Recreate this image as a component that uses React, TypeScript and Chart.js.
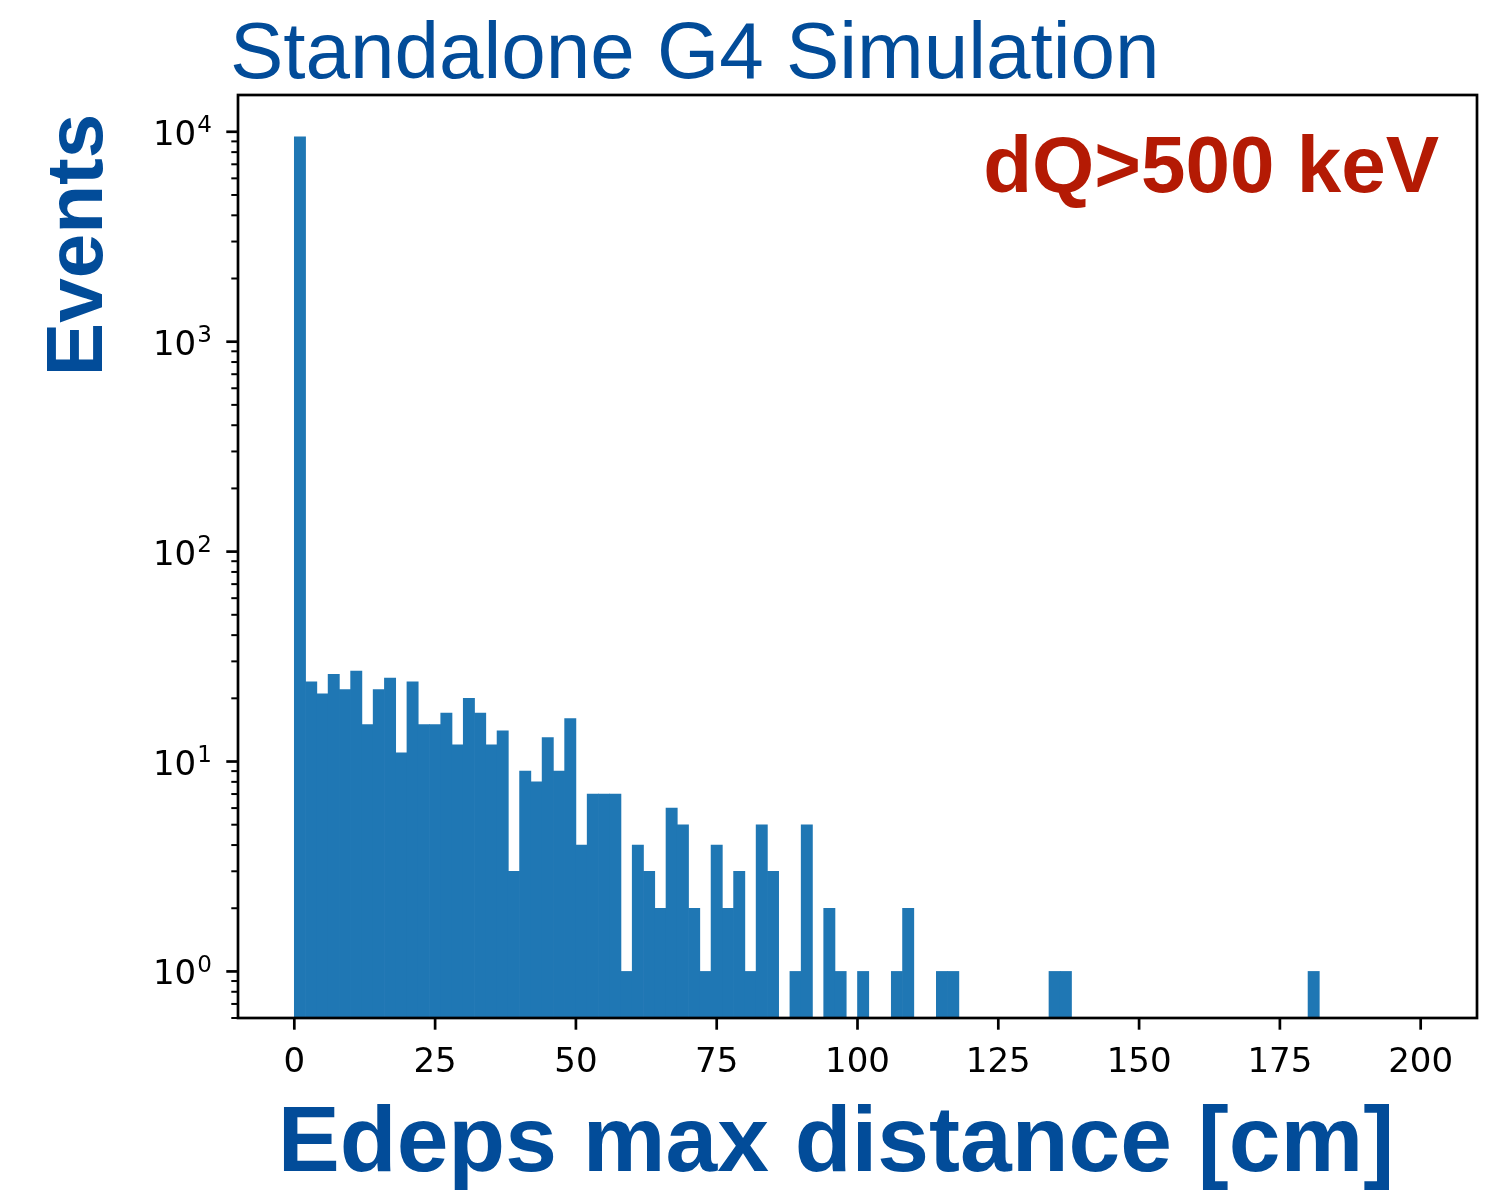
import React, { useEffect, useRef } from 'react';
import { Chart, registerables } from 'chart.js';

Chart.register(...registerables);

// ---- data ----
const BIN_START = 0;
const BIN_WIDTH = 2;
const counts: number[] = [
  9460, 24, 21, 26, 22, 27, 15, 22, 25, 11,
  24, 15, 15, 17, 12, 20, 17, 12, 14, 3,
  9, 8, 13, 9, 16, 4, 7, 7, 7, 1,
  4, 3, 2, 6, 5, 2, 1, 4, 2, 3,
  1, 5, 3, 0, 1, 5, 0, 2, 1, 0,
  1, 0, 0, 1, 2, 0, 0, 1, 1, 0,
  0, 0, 0, 0, 0, 0, 0, 1, 1, 0,
  0, 0, 0, 0, 0, 0, 0, 0, 0, 0,
  0, 0, 0, 0, 0, 0, 0, 0, 0, 0,
  1, 0, 0, 0, 0, 0, 0, 0, 0, 0,
];
const xTickValues = [0, 25, 50, 75, 100, 125, 150, 175, 200];
const yDecadeExponents = [0, 1, 2, 3, 4];
const X_MIN = -10;
const X_MAX = 210;
const Y_MIN = 0.632;
const Y_MAX = 14970;

const titleText = 'Standalone G4 Simulation';
const noteText = 'dQ>500 keV';
const xLabelText = 'Edeps max distance [cm]';
const yLabelText = 'Events';

const W = 1506;
const H = 1191;
const BLUE = '#024c99';
const RED = '#b41a04';
const BAR = '#1f77b4';

const decorPlugin = {
  id: 'decor',
  afterDraw(chart: any) {
    const { ctx, chartArea } = chart;
    const xs = chart.scales.x;
    const ys = chart.scales.y;
    ctx.save();
    // frame (spines)
    ctx.strokeStyle = '#000';
    ctx.lineWidth = 2.7;
    ctx.strokeRect(
      chartArea.left,
      chartArea.top,
      chartArea.right - chartArea.left,
      chartArea.bottom - chartArea.top
    );
    // x ticks
    ctx.lineCap = 'butt';
    for (const v of xTickValues) {
      const px = xs.getPixelForValue(v);
      ctx.beginPath();
      ctx.moveTo(px, chartArea.bottom);
      ctx.lineTo(px, chartArea.bottom + 11.7);
      ctx.stroke();
    }
    // y ticks (log major+minor)
    for (let e = -1; e <= 4; e++) {
      for (let k = 1; k <= 9; k++) {
        const v = k * Math.pow(10, e);
        if (v < ys.min || v > ys.max) continue;
        const py = ys.getPixelForValue(v);
        const major = k === 1;
        ctx.lineWidth = major ? 2.7 : 2;
        ctx.beginPath();
        ctx.moveTo(chartArea.left, py);
        ctx.lineTo(chartArea.left - (major ? 11.7 : 6.7), py);
        ctx.stroke();
      }
    }
    // y tick labels 10^n
    ctx.fillStyle = '#000';
    ctx.textBaseline = 'alphabetic';
    ctx.textAlign = 'left';
    for (const e of yDecadeExponents) {
      const py = ys.getPixelForValue(Math.pow(10, e));
      ctx.font = '34px "DejaVu Sans"';
      const baseW = ctx.measureText('10').width;
      ctx.font = '23px "DejaVu Sans"';
      const supW = ctx.measureText(String(e)).width;
      const right = chartArea.left - 11.7 - 15.5;
      const x0 = right - baseW - supW;
      ctx.font = '34px "DejaVu Sans"';
      ctx.fillText('10', x0, py + 13);
      ctx.font = '23px "DejaVu Sans"';
      ctx.fillText(String(e), x0 + baseW + 1, py + 0.5);
    }
    // title
    ctx.fillStyle = BLUE;
    ctx.font = '80px "Liberation Sans"';
    ctx.textAlign = 'left';
    ctx.fillText(titleText, 230, 78);
    // note
    ctx.fillStyle = RED;
    ctx.font = 'bold 80px "Liberation Sans"';
    ctx.textAlign = 'right';
    ctx.fillText(noteText, 1439, 192);
    // x label
    ctx.fillStyle = BLUE;
    ctx.font = 'bold 93px "Liberation Sans"';
    ctx.textAlign = 'center';
    ctx.fillText(xLabelText, 836, 1171);
    // y label
    ctx.save();
    ctx.translate(102, 245);
    ctx.rotate(-Math.PI / 2);
    ctx.font = 'bold 80px "Liberation Sans"';
    ctx.textAlign = 'center';
    ctx.fillText(yLabelText, 0, 0);
    ctx.restore();
    ctx.restore();
  },
};

export default function App() {
  const ref = useRef<HTMLCanvasElement | null>(null);
  useEffect(() => {
    if (!ref.current) return;
    const points = counts.map((c, i) => ({
      x: BIN_START + BIN_WIDTH * i + BIN_WIDTH / 2,
      y: c > 0 ? c : null,
    }));
    const chart = new Chart(ref.current, {
      type: 'bar',
      data: {
        datasets: [
          {
            data: points as any,
            backgroundColor: BAR,
            borderWidth: 0,
            barPercentage: 1.0,
            categoryPercentage: 1.0,
            grouped: false,
          } as any,
        ],
      },
      options: {
        animation: false,
        responsive: false,
        maintainAspectRatio: false,
        devicePixelRatio: 1,
        layout: { padding: { left: 0, right: W - 1477, top: 95, bottom: 0 } },
        plugins: {
          legend: { display: false },
          tooltip: { enabled: false },
          title: { display: false },
        },
        scales: {
          x: {
            type: 'linear',
            min: X_MIN,
            max: X_MAX,
            offset: false,
            grid: { display: false },
            border: { display: false },
            ticks: {
              color: '#000',
              font: { family: 'DejaVu Sans', size: 34 },
              padding: 17,
              maxRotation: 0,
              autoSkip: false,
              callback: (v: any) => String(v),
            },
            afterBuildTicks: (scale: any) => {
              scale.ticks = xTickValues.map((v) => ({ value: v }));
            },
            afterFit: (scale: any) => {
              scale.height = H - 1018;
            },
          } as any,
          y: {
            type: 'logarithmic',
            min: Y_MIN,
            max: Y_MAX,
            grid: { display: false },
            border: { display: false },
            ticks: { display: false },
            afterFit: (scale: any) => {
              scale.width = 238;
            },
          } as any,
        },
      },
      plugins: [decorPlugin],
    });
    return () => chart.destroy();
  }, []);
  return (
    <div style={{ position: 'fixed', left: 0, top: 0, width: W, height: H, background: '#fff' }}>
      <canvas ref={ref} width={W} height={H} style={{ display: 'block' }} />
    </div>
  );
}
